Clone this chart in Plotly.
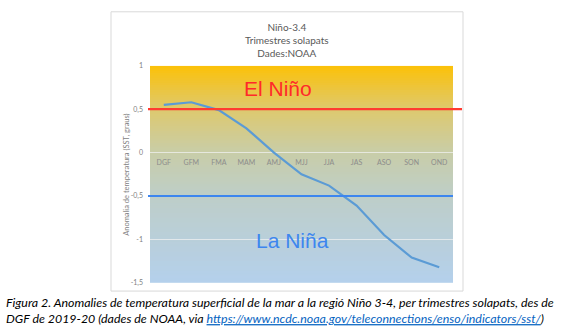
import plotly.graph_objects as go

W, H = 566, 334

# Overlapping three-month seasons (Dec-Jan-Feb 2019-20 onward)
seasons = ["DGF", "GFM", "FMA", "MAM", "AMJ", "MJJ", "JJA", "JAS", "ASO", "SON", "OND"]
anomaly = [0.55, 0.58, 0.49, 0.28, 0.0, -0.25, -0.38, -0.61, -0.95, -1.21, -1.32]

# ENSO thresholds
el_nino_threshold = 0.5
la_nina_threshold = -0.5

y_ticks = [1, 0.5, 0, -0.5, -1, -1.5]
y_tick_text = ["1", "0,5", "0", "-0,5", "-1", "-1,5"]
y_range = [-1.5, 1.0]


def px_x(p):
    return p / W


def px_y(p):
    return 1 - p / H


# plot-area box in pixels
PL, PR, PT, PB = 150, 453, 62.5, 285.5
zero_py = PT + (y_range[1] - 0) / (y_range[1] - y_range[0]) * (PB - PT)

fig = go.Figure()

fig.add_trace(go.Scatter(
    x=seasons, y=anomaly, mode="lines",
    line=dict(color="#5B9BD5", width=2.2),
    hoverinfo="x+y", showlegend=False,
))

shapes = []

# vertical colour gradient behind the plot: amber at the top, pale blue at the bottom
stops = [
    (1.0, (252, 193, 8)),
    (0.5, (222, 201, 110)),
    (0.0, (200, 205, 168)),
    (-0.5, (190, 206, 200)),
    (-1.5, (180, 208, 236)),
]


def grad_color(v):
    for (v0, c0), (v1, c1) in zip(stops[:-1], stops[1:]):
        if v1 <= v <= v0:
            t = (v0 - v) / (v0 - v1)
            return "rgb(%d,%d,%d)" % tuple(round(a + (b - a) * t) for a, b in zip(c0, c1))
    return "rgb(%d,%d,%d)" % stops[-1][1]


n_bands = 90
step = (y_range[1] - y_range[0]) / n_bands
for i in range(n_bands):
    top = y_range[1] - i * step
    bottom = max(top - step - 0.03, y_range[0])
    shapes.append(dict(
        type="rect", xref="x domain", yref="y", x0=0, x1=1,
        y0=bottom, y1=top,
        fillcolor=grad_color(top - step / 2), line=dict(width=0), layer="below",
    ))

# threshold lines
shapes.append(dict(type="line", xref="paper", yref="y",
                   x0=px_x(148), x1=px_x(462), y0=el_nino_threshold, y1=el_nino_threshold,
                   line=dict(color="#FF3B30", width=2.2)))
shapes.append(dict(type="line", xref="paper", yref="y",
                   x0=px_x(148), x1=px_x(453), y0=la_nina_threshold, y1=la_nina_threshold,
                   line=dict(color="#3D86EF", width=2.2)))

# outer chart frame
shapes.append(dict(type="rect", xref="paper", yref="paper",
                   x0=px_x(111), x1=px_x(463), y0=px_y(294), y1=px_y(7),
                   line=dict(color="#D9D9D9", width=1), fillcolor="rgba(0,0,0,0)",
                   layer="below"))

annotations = [
    dict(text="Niño-3.4<br>Trimestres solapats<br>Dades:NOAA",
         xref="paper", yref="paper", x=px_x(287), y=px_y(14), xanchor="center", yanchor="top",
         showarrow=False, align="center",
         font=dict(family="Lato", size=10, color="#595959")),
    dict(text="Anomalia de temperatura (SST, graus)", textangle=-90,
         xref="paper", yref="paper", x=px_x(127), y=px_y(174.5),
         xanchor="center", yanchor="middle", showarrow=False,
         font=dict(family="Lato", size=7.5, color="#7F7F7F")),
    dict(text="El Niño", xref="paper", yref="paper", x=px_x(278), y=px_y(86),
         xanchor="center", yanchor="middle", showarrow=False,
         font=dict(family="Liberation Sans", size=21, color="#FF2A2A")),
    dict(text="La Niña", xref="paper", yref="paper", x=px_x(292), y=px_y(242),
         xanchor="center", yanchor="middle", showarrow=False,
         font=dict(family="Liberation Sans", size=21, color="#3D86EF")),
    dict(text=("<i>Figura 2. Anomalies de temperatura superficial de la mar a la regió Niño 3-4, "
               "per trimestres solapats, des de<br>DGF de 2019-20 (dades de NOAA, via "
               "<span style='color:#0563C1'><u>https://www.ncdc.noaa.gov/teleconnections/enso/indicators/sst/</u></span>)</i>"),
         xref="paper", yref="paper", x=px_x(4), y=px_y(296), xanchor="left", yanchor="top",
         showarrow=False, align="left",
         font=dict(family="Lato", size=12.4, color="#000000")),
]

fig.update_layout(
    width=W, height=H,
    margin=dict(l=0, r=0, t=0, b=0),
    paper_bgcolor="white", plot_bgcolor="rgba(0,0,0,0)",
    separators=", ",
    shapes=shapes, annotations=annotations,
    showlegend=False,
    xaxis=dict(
        domain=[px_x(PL), px_x(PR)], range=[-0.5, len(seasons) - 0.5],
        anchor="free", position=px_y(zero_py),
        showgrid=False, zeroline=False, showline=False, ticks="",
        tickfont=dict(family="Lato", size=7, color="#8C8C8C"),
        ticklabelstandoff=4,
    ),
    yaxis=dict(
        domain=[px_y(PB), px_y(PT)], range=y_range,
        tickvals=y_ticks, ticktext=y_tick_text,
        showgrid=True, gridcolor="rgba(240,240,240,0.75)", gridwidth=1,
        zeroline=False, showline=False, ticks="",
        tickfont=dict(family="Lato", size=7, color="#7F7F7F"),
        ticklabelstandoff=6,
    ),
)

fig.write_html("out.html")
